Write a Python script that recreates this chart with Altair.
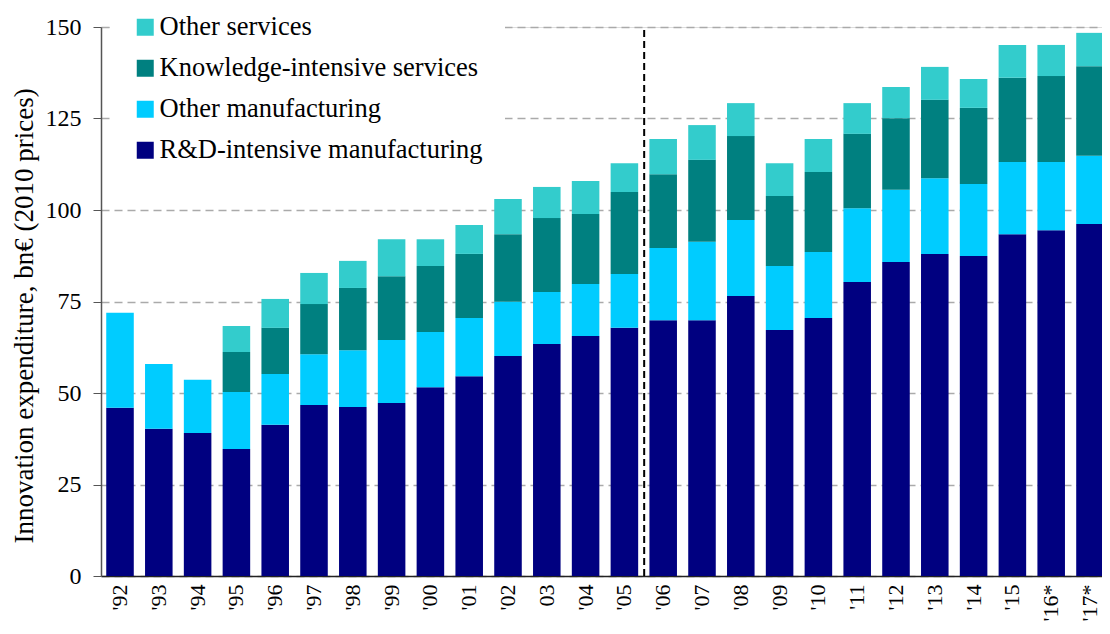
import altair as alt
import pandas as pd

years = ["'92", "'93", "'94", "'95", "'96", "'97", "'98", "'99", "'00", "'01",
         "'02", "03", "'04", "'05", "'06", "'07", "'08", "'09", "'10", "'11",
         "'12", "'13", "'14", "'15", "'16*", "'17*"]

rd_manuf = [46.0, 40.2, 39.1, 34.7, 41.3, 46.7, 46.2, 47.3, 51.6, 54.6,
            60.1, 63.4, 65.6, 67.8, 69.9, 69.9, 76.5, 67.2, 70.5, 80.3,
            85.8, 88.0, 87.4, 93.4, 94.5, 96.2]
other_manuf = [25.9, 17.7, 14.5, 15.6, 13.9, 13.9, 15.5, 17.2, 15.1, 15.9,
               14.8, 14.2, 14.2, 14.7, 19.7, 21.4, 20.8, 17.5, 18.0, 20.2,
               19.7, 20.7, 19.7, 19.7, 18.6, 18.6]
kis = [None, None, None, 10.9, 12.6, 13.7, 17.0, 17.4, 18.0, 17.5,
       18.5, 20.2, 19.1, 22.4, 20.2, 22.4, 22.9, 19.1, 21.9, 20.3,
       19.6, 21.4, 20.8, 23.0, 23.5, 24.5]
other_serv = [None, None, None, 7.1, 7.9, 8.5, 7.4, 10.1, 7.3, 7.9,
              9.6, 8.5, 9.0, 7.9, 9.6, 9.5, 9.0, 9.0, 9.0, 8.4,
              8.5, 9.0, 7.9, 9.0, 8.5, 9.1]

series = ["R&D-intensive manufacturing", "Other manufacturing",
          "Knowledge-intensive services", "Other services"]
colors = ["#000080", "#00CCFF", "#008080", "#33CCCC"]
y_ticks = [0, 25, 50, 75, 100, 125, 150]
split_after = ["'05"]

rows = []
for i, yr in enumerate(years):
    for k, vals in enumerate([rd_manuf, other_manuf, kis, other_serv]):
        v = vals[i]
        if v is not None:
            rows.append({"year": yr, "series": series[k], "value": v, "order": k})
df = pd.DataFrame(rows)

FONT = "Liberation Serif"

x_scale = alt.Scale(range=[0, 1008], paddingInner=0.29, paddingOuter=0.135)
y_scale = alt.Scale(domain=[0, 150], nice=False)

bars = alt.Chart(df).mark_bar().encode(
    x=alt.X("year:N", sort=years, scale=x_scale,
            axis=alt.Axis(title=None, labelAngle=270, labelFontSize=22, labelFont=FONT,
                          labelColor="black", labelPadding=8, ticks=False,
                          domainColor="#222", domainWidth=1.5)),
    y=alt.Y("value:Q", stack="zero", scale=y_scale,
            axis=alt.Axis(values=y_ticks, grid=True, gridDash=[8, 5], gridColor="#aaaaaa",
                          gridWidth=1.5, tickSize=8, tickColor="#555", domainColor="#555",
                          domainWidth=1.5, labelFontSize=24, labelFont=FONT,
                          labelColor="black", labelPadding=12,
                          title="Innovation expenditure, bn€ (2010 prices)",
                          titleFont=FONT, titleFontSize=27, titleFontWeight="normal",
                          titleColor="black", titleAngle=270, titleAlign="left",
                          titleBaseline="middle", titleX=-77, titleY=516)),
    color=alt.Color("series:N",
                    scale=alt.Scale(domain=series[::-1], range=colors[::-1]),
                    legend=alt.Legend(title=None, orient="none", legendX=9, legendY=-35,
                                      fillColor="white", padding=22,
                                      symbolType="square", symbolSize=289,
                                      symbolStrokeWidth=0, symbolOpacity=1,
                                      labelFont=FONT, labelFontSize=26.5,
                                      labelColor="black", labelOffset=1,
                                      rowPadding=14, labelLimit=500)),
    order=alt.Order("order:Q", sort="ascending"),
)

split = alt.Chart(pd.DataFrame({"year": split_after})).mark_rule(
    color="black", strokeDash=[7, 4], strokeWidth=2, xOffset=6
).encode(
    x=alt.X("year:N", sort=years, scale=x_scale, bandPosition=1),
    y=alt.datum(0),
    y2=alt.datum(150),
)

chart = alt.layer(bars, split).properties(
    width=1001, height=549,
    autosize=alt.AutoSizeParams(type="none"),
    padding={"left": 93, "top": 19, "right": 0, "bottom": 45},
).configure_view(stroke=None).configure(background="white")

chart.save("out.html", embed_options={"renderer": "svg", "actions": False})
